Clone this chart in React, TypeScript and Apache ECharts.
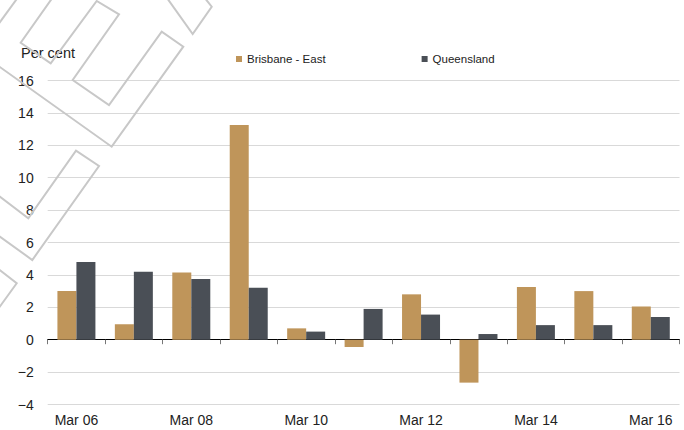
import React, { useEffect, useRef } from 'react';
import * as echarts from 'echarts';

const categories = ['Mar 06', 'Mar 07', 'Mar 08', 'Mar 09', 'Mar 10', 'Mar 11', 'Mar 12', 'Mar 13', 'Mar 14', 'Mar 15', 'Mar 16'];
const brisbaneEast = [3.0, 0.95, 4.15, 13.25, 0.7, -0.45, 2.8, -2.65, 3.25, 3.0, 2.05];
const queensland = [4.8, 4.2, 3.75, 3.2, 0.5, 1.9, 1.55, 0.35, 0.9, 0.9, 1.4];
const seriesNames = ['Brisbane - East', 'Queensland'];
const yMin = -4;
const yMax = 16;
const yInterval = 2;
const unitLabel = 'Per cent';

const FONT = '"Liberation Sans", Arial, sans-serif';
const WM = '#c8c8c8';

export default function App() {
  const ref = useRef<HTMLDivElement>(null);
  useEffect(() => {
    if (!ref.current) return;
    const chart = echarts.init(ref.current, null, { renderer: 'svg' });
    const wmStyle = { stroke: WM, lineWidth: 2, fill: null as any };
    chart.setOption({
      animation: false,
      backgroundColor: '#ffffff',
      textStyle: { fontFamily: FONT },
      grid: { left: 47.7, right: 4.5, top: 80.5, bottom: 25.5, containLabel: false },
      legend: {
        data: seriesNames,
        left: 231,
        top: 48,
        icon: 'rect',
        itemWidth: 6,
        itemHeight: 6,
        itemGap: 96,
        textStyle: { fontSize: 11.5, color: '#222', fontFamily: FONT },
      },
      xAxis: [
        {
          type: 'category',
          data: categories,
          position: 'bottom',
          axisLine: { show: false, onZero: false },
          axisTick: { show: false },
          axisLabel: { interval: 1, fontSize: 14, color: '#222', margin: 8.5, fontFamily: FONT },
          splitLine: { show: false },
        },
        {
          type: 'category',
          data: categories,
          position: 'bottom',
          axisLine: { show: true, onZero: true, lineStyle: { color: '#000', width: 1 } },
          axisTick: { show: true, interval: 0, length: 4.5, lineStyle: { color: '#777' } },
          axisLabel: { show: false },
          splitLine: { show: false },
        },
      ],
      yAxis: {
        type: 'value',
        min: yMin,
        max: yMax,
        interval: yInterval,
        axisLine: { show: false },
        axisTick: { show: false },
        splitLine: { lineStyle: { color: '#d9d9d9', width: 1 } },
        axisLabel: {
          fontSize: 14,
          color: '#222',
          margin: 14,
          fontFamily: FONT,
          formatter: (v: number) => (v < 0 ? '\u2212' + Math.abs(v) : String(v)),
        },
      },
      series: [
        {
          name: seriesNames[0],
          type: 'bar',
          xAxisIndex: 0,
          data: brisbaneEast,
          barWidth: 19,
          barGap: '0%',
          itemStyle: { color: '#bf955a' },
        },
        {
          name: seriesNames[1],
          type: 'bar',
          xAxisIndex: 0,
          data: queensland,
          barWidth: 19,
          barGap: '0%',
          itemStyle: { color: '#4a4f56' },
        },
      ],
      graphic: [
        {
          type: 'text',
          left: 21,
          top: 45.5,
          style: { text: unitLabel, fontSize: 14.5, fill: '#222', fontFamily: FONT },
          z: 50,
        },
        {
          type: 'polyline',
          shape: {
            points: [
              [53, -3], [20.7, 42.7], [50.7, 63.3], [96.7, 1], [119, 14.3], [72.7, 80], [109, 105],
              [161.7, 31.7], [183.3, 46.7], [111.7, 146.7], [-3, 65],
            ],
          },
          style: wmStyle,
          z: 100,
        },
        { type: 'polyline', shape: { points: [[-2, 24.8], [17.5, -2]] }, style: wmStyle, z: 100 },
        {
          type: 'polyline',
          shape: { points: [[167, -2], [192.7, 34], [211.7, 6.7], [204, -3]] },
          style: wmStyle,
          z: 100,
        },
        {
          type: 'polyline',
          shape: {
            points: [[-3, 194.5], [28.3, 218.3], [76, 150.7], [99, 166], [32.3, 260], [-3, 234.5]],
          },
          style: wmStyle,
          z: 100,
        },
        {
          type: 'polyline',
          shape: { points: [[-3, 268], [16.7, 283.3], [-3, 310.5]] },
          style: wmStyle,
          z: 100,
        },
      ],
    });
    return () => chart.dispose();
  }, []);
  return (
    <div
      ref={ref}
      style={{ position: 'fixed', left: 0, top: 0, width: 684, height: 430, background: '#fff' }}
    />
  );
}
